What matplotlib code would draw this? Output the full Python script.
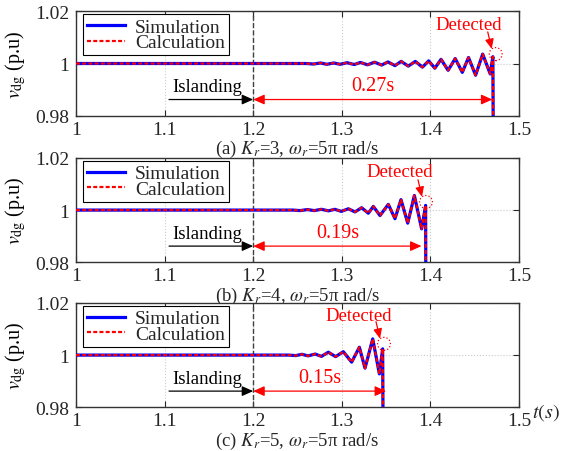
import matplotlib
matplotlib.use('Agg')
import matplotlib.pyplot as plt
from matplotlib.patches import Ellipse

plt.rcParams['font.family'] = ['Liberation Serif', 'DejaVu Serif']
plt.rcParams['mathtext.fontset'] = 'stix'
plt.rcParams['font.size'] = 13
plt.rcParams['text.color'] = '#262626'

# islanding instant and detection delays (s)
t_island = 1.2
delays = [0.27, 0.19, 0.15]
captions = [r'(a) $K_r$=3, $\omega_r$=5π rad/s',
            r'(b) $K_r$=4, $\omega_r$=5π rad/s',
            r'(c) $K_r$=5, $\omega_r$=5π rad/s']

# v_dg traces, K_r = 3
t_a = [1.0, 1.2, 1.26, 1.268, 1.276, 1.283, 1.291, 1.298, 1.306, 1.314, 1.321,
       1.329, 1.337, 1.345, 1.352, 1.360, 1.367, 1.375, 1.383, 1.391, 1.398,
       1.405, 1.412, 1.420, 1.428, 1.436, 1.443, 1.451, 1.459, 1.4675, 1.4705,
       1.4712]
v_a = [1.0, 1.0, 1.0, 0.9998, 1.0002, 0.9997, 1.0002, 0.9997, 1.0003, 0.9996,
       1.0004, 0.9995, 1.0005, 0.9994, 1.0006, 0.9992, 1.0008, 0.9990, 1.0008,
       0.9986, 1.0010, 0.9982, 1.0016, 0.9974, 1.0019, 0.9966, 1.0023, 0.9955,
       1.0036, 0.9960, 1.0026, 0.95]

# K_r = 4
t_b = [1.0, 1.2, 1.245, 1.253, 1.261, 1.269, 1.277, 1.285, 1.292, 1.2995,
       1.3074, 1.3149, 1.3224, 1.3299, 1.3356, 1.3431, 1.3525, 1.3600, 1.3668,
       1.3744, 1.3819, 1.3901, 1.3946, 1.3950]
v_b = [1.0, 1.0, 1.0, 0.9998, 1.0002, 0.9998, 1.0003, 0.9997, 1.0003, 0.9995,
       1.0005, 0.9993, 1.0009, 0.9988, 1.0014, 0.9979, 1.0022, 0.9967, 1.0040,
       0.9950, 1.0056, 0.9928, 1.0018, 0.95]

# K_r = 5
t_c = [1.0, 1.2, 1.24, 1.248, 1.255, 1.262, 1.270, 1.277, 1.2848, 1.293,
       1.3017, 1.3111, 1.3198, 1.3262, 1.3349, 1.3424, 1.3461, 1.3469]
v_c = [1.0, 1.0, 1.0, 0.9998, 1.0003, 0.9997, 1.0004, 0.9995, 1.0011, 0.9994,
       1.0013, 0.9973, 1.0030, 0.9950, 1.0062, 0.9928, 1.0024, 0.95]

sims = [(t_a, v_a), (t_b, v_b), (t_c, v_c)]
# the analytical model overlays the simulated trace
calcs = [(t_a, v_a), (t_b, v_b), (t_c, v_c)]

# where the detection is marked (circle centre) and its label
detect_pts = [(1.4737, 1.0036), (1.3950, 1.0031), (1.3476, 1.0043)]
detect_txt = [(1.4436, 1.0151), (1.3657, 1.0146), (1.3187, 1.0152)]

xticks = [1, 1.1, 1.2, 1.3, 1.4, 1.5]
xticklabels = ['1', '1.1', '1.2', '1.3', '1.4', '1.5']
yticks = [0.98, 1.0, 1.02]
yticklabels = ['0.98', '1', '1.02']

fig = plt.figure(figsize=(5.74, 4.52), dpi=100)
bottoms = [0.7418, 0.4175, 0.0967]

for i in range(3):
    ax = fig.add_axes([0.1324, bottoms[i], 0.7718, 0.2310])
    ts, vs = sims[i]
    tc, vc = calcs[i]
    ax.plot(ts, vs, color='#0000ff', lw=2.3, label='Simulation', zorder=3)
    ax.plot(tc, vc, color='#ff0000', lw=1.6, ls=(0, (1.8, 1.0)),
            label='Calculation', zorder=4)

    ax.set_xlim(1, 1.5)
    ax.set_ylim(0.98, 1.02)
    ax.set_xticks(xticks)
    ax.set_xticklabels(xticklabels)
    ax.set_yticks(yticks)
    ax.set_yticklabels(yticklabels)
    ax.tick_params(direction='in', top=True, right=True, length=4,
                   width=0.8, colors='#262626', labelsize=14)
    ax.tick_params(axis='x', pad=3.5)
    ax.tick_params(axis='y', pad=5)
    ax.grid(True, color='#cccccc', ls=':', lw=0.8)
    for sp in ax.spines.values():
        sp.set_color('#333333')
        sp.set_linewidth(1.0)

    ax.set_ylabel(r'$v_{\mathrm{dg}}$ (p.u)', fontsize=14.5)
    ax.yaxis.set_label_coords(-0.108, 0.5)

    # islanding instant
    ax.axvline(t_island, color='#404040', ls='--', lw=1.0, zorder=2)
    ax.annotate('', xy=(t_island, 0.9862), xytext=(1.105, 0.9862),
                arrowprops=dict(arrowstyle='-|>,head_length=0.45,head_width=0.2',
                                color='black', lw=0.9, shrinkA=0, shrinkB=0,
                                mutation_scale=15))
    ax.text(1.148, 0.9910, 'Islanding', ha='center', va='center', fontsize=13.5,
            color='black')

    # detection delay
    t_det = t_island + delays[i]
    ax.annotate('', xy=(t_det, 0.9862), xytext=(t_island, 0.9862),
                arrowprops=dict(arrowstyle='<|-|>,head_length=0.45,head_width=0.2',
                                color='#ff0000', lw=0.9, shrinkA=0, shrinkB=0,
                                mutation_scale=15))
    ax.text((t_island + t_det) / 2, 0.9914, '%.2fs' % delays[i], ha='center',
            va='center', fontsize=14.5, color='#ff0000')

    cx, cy = detect_pts[i]
    ax.add_patch(Ellipse((cx, cy), 0.0145, 0.0050, fill=False,
                         ec='#ff0000', ls=':', lw=0.9, zorder=5))
    tx, ty = detect_txt[i]
    ax.text(tx, ty, 'Detected', ha='center', va='center', fontsize=13.5,
            color='#ff0000')
    ax.annotate('', xy=(cx - 0.0045, cy + 0.0020), xytext=(cx - 0.0090, cy + 0.0085),
                arrowprops=dict(arrowstyle='-|>,head_length=0.45,head_width=0.2',
                                color='#ff0000', lw=0.9, shrinkA=0, shrinkB=0,
                                mutation_scale=13))

    leg = ax.legend(loc='upper left', bbox_to_anchor=(0.015, 0.971),
                    borderaxespad=0, fancybox=False, edgecolor='black',
                    framealpha=1, handlelength=2.0, labelspacing=-0.1,
                    borderpad=0.2, handletextpad=0.5, fontsize=14)
    leg.get_frame().set_linewidth(0.8)

    ax.text(0.5, -0.318, captions[i], transform=ax.transAxes, ha='center',
            va='center', fontsize=13.5)

    if i == 2:
        ax.text(1.061, -0.045, r'$t(s)$', transform=ax.transAxes, ha='center',
                va='center', fontsize=14.5)

fig.savefig('out.png', dpi=100)
